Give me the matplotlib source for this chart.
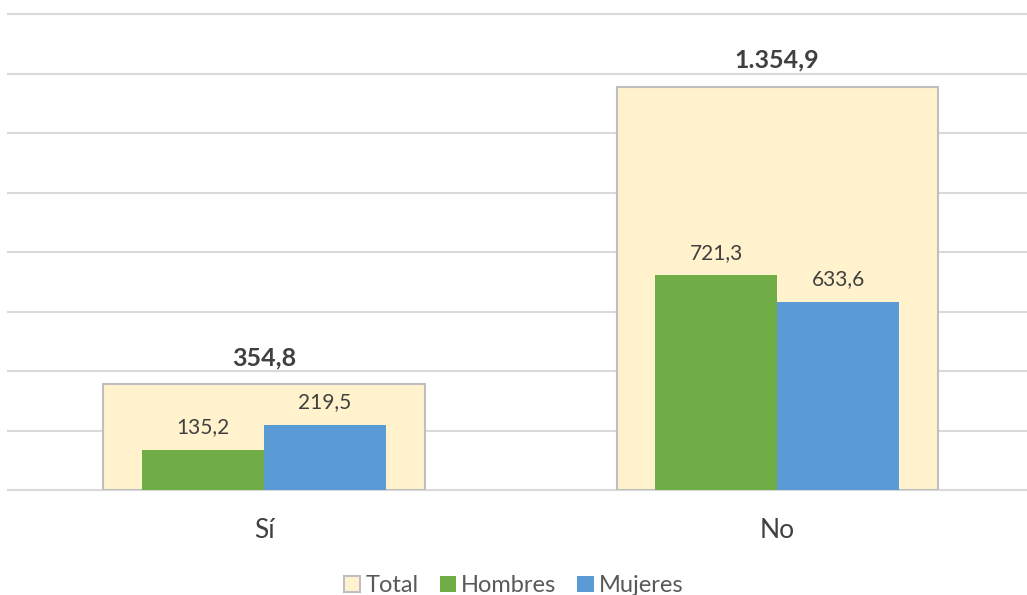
import numpy as np
import matplotlib.pyplot as plt
from matplotlib.patches import Patch

# Datos (miles de personas)
categorias = ['Sí', 'No']
total = [354.8, 1354.9]
hombres = [135.2, 721.3]
mujeres = [219.5, 633.6]

plt.rcParams['font.family'] = ['Lato', 'DejaVu Sans']

def fmt_es(v):
    s = f'{v:,.1f}'
    return s.replace(',', 'X').replace('.', ',').replace('X', '.')

W, H = 1027, 595
fig = plt.figure(figsize=(W / 100, H / 100), dpi=100)
y0, y1 = 490, 14
ax = fig.add_axes([8 / W, 1 - y0 / H, 1019 / W, (y0 - y1) / H])

x = np.arange(len(categorias))
ax.set_xlim(-0.499, 1.487)
ax.set_ylim(0, 1600)

for yv in range(0, 1601, 200):
    ax.axhline(yv, color='#d9d9d9', lw=1.5, zorder=0, clip_on=False)

w_tot = 0.626
w = 0.238
ax.bar(x, total, w_tot, color='#fff2cc', edgecolor='#bfbfbf', lw=1.5, zorder=1)
ax.bar(x - w / 2, hombres, w, color='#70ad47', zorder=2)
ax.bar(x + w / 2, mujeres, w, color='#5b9bd5', zorder=2)

for i in range(len(x)):
    ax.annotate(fmt_es(total[i]), (x[i], total[i]), xytext=(0, 11), textcoords='offset points',
                ha='center', va='bottom', fontsize=18, fontweight='bold', color='#404040')
    ax.annotate(fmt_es(hombres[i]), (x[i] - w / 2, hombres[i]), xytext=(0, 9), textcoords='offset points',
                ha='center', va='bottom', fontsize=15, color='#404040')
    ax.annotate(fmt_es(mujeres[i]), (x[i] + w / 2, mujeres[i]), xytext=(0, 9), textcoords='offset points',
                ha='center', va='bottom', fontsize=15, color='#404040')

ax.set_xticks(x)
ax.set_xticklabels(categorias, fontsize=19, color='#404040')
ax.tick_params(axis='x', length=0, pad=20)
ax.set_yticks([])
for s in ax.spines.values():
    s.set_visible(False)

handles = [Patch(facecolor='#fff2cc', edgecolor='#bfbfbf', lw=1.5, label='Total'),
           Patch(facecolor='#70ad47', label='Hombres'),
           Patch(facecolor='#5b9bd5', label='Mujeres')]
fig.legend(handles=handles, loc='lower center', bbox_to_anchor=(0.5, -0.038), ncol=3,
           frameon=False, fontsize=17, handlelength=0.7, handleheight=0.7,
           handletextpad=0.2, columnspacing=0.9, labelcolor='#595959')

fig.savefig('out.png', dpi=100)
